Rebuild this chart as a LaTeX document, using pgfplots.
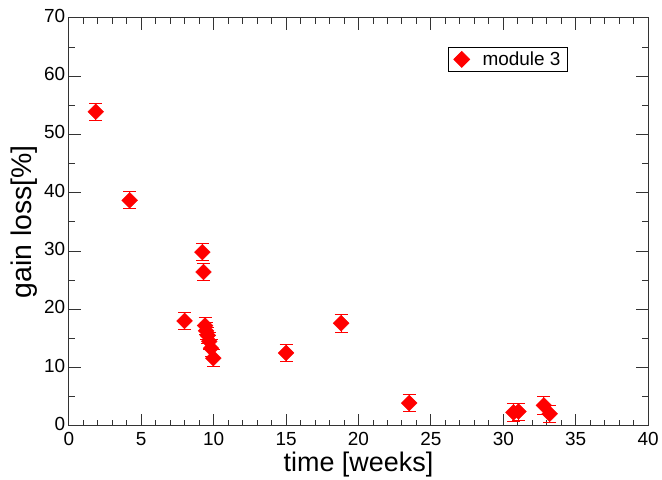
\documentclass[border=0pt]{standalone}
\usepackage{pgfplots}
\pgfplotsset{compat=1.18}
\usepackage{fontspec}
\setmainfont{Liberation Sans}
\begin{document}
\begin{tikzpicture}
\begin{axis}[
  name=ax,
  scale only axis, width=581pt, height=409pt,
  xmin=0, xmax=40, ymin=0, ymax=70,
  xtick={0,5,...,40}, ytick={0,10,...,70},
  minor x tick num=4, minor y tick num=1,
  tick align=inside, tick pos=both,
  major tick length=12pt, minor tick length=6pt,
  axis line style={line width=0.9pt, black!80},
  every tick/.style={line width=0.9pt, black!80},
  /pgf/number format/assume math mode=true,
  tick label style={font=\fontsize{19}{19}\selectfont},
  xticklabel style={yshift=-3pt},
  yticklabel style={xshift=0pt, yshift=2pt},
  xlabel={time [weeks]}, ylabel={gain loss[\%]},
  xlabel style={font=\fontsize{27}{27}\selectfont, yshift=1pt},
  ylabel style={font=\fontsize{28.5}{28.5}\selectfont, yshift=0pt},
  legend style={at={(0.8615,0.929)}, anchor=north east, font=\fontsize{19}{19}\selectfont, draw=black, line width=0.8pt, inner xsep=5pt, inner ysep=2.5pt},
  legend cell align=left,
  legend image code/.code={\draw[#1] plot coordinates {(0.3cm,0cm)};},
]
\addplot[only marks, mark=square*, mark size=5.6pt, red, mark options={fill=red, draw=red, rotate=45},
  error bars/.cd, y dir=both, y explicit, error mark options={rotate=90, mark size=6.5pt, red, line width=0.9pt}, error bar style={red, line width=0.9pt}]
coordinates {
(1.86,53.9) +- (0,1.45)
(4.2,38.7) +- (0,1.45)
(7.99,18.0) +- (0,1.5)
(9.22,29.8) +- (0,1.45)
(9.3,26.4) +- (0,1.5)
(9.41,17.2) +- (0,1.45)
(9.48,16.3) +- (0,1.45)
(9.6,15.5) +- (0,1.45)
(9.7,14.5) +- (0,1.45)
(9.82,13.3) +- (0,1.45)
(9.98,11.6) +- (0,1.45)
(15.0,12.5) +- (0,1.5)
(18.8,17.6) +- (0,1.5)
(23.5,3.9) +- (0,1.5)
(30.7,2.3) +- (0,1.5)
(31.05,2.45) +- (0,1.45)
(32.8,3.5) +- (0,1.5)
(33.2,2.05) +- (0,1.45)
};
\addlegendentry{\hspace{11pt}module 3}
\end{axis}
\path (ax.south west) ++(-69pt,-51pt) coordinate (bl);
\path (ax.north east) ++(12pt,18pt) coordinate (tr);
\path[use as bounding box] (bl) rectangle (tr);
\end{tikzpicture}
\end{document}
